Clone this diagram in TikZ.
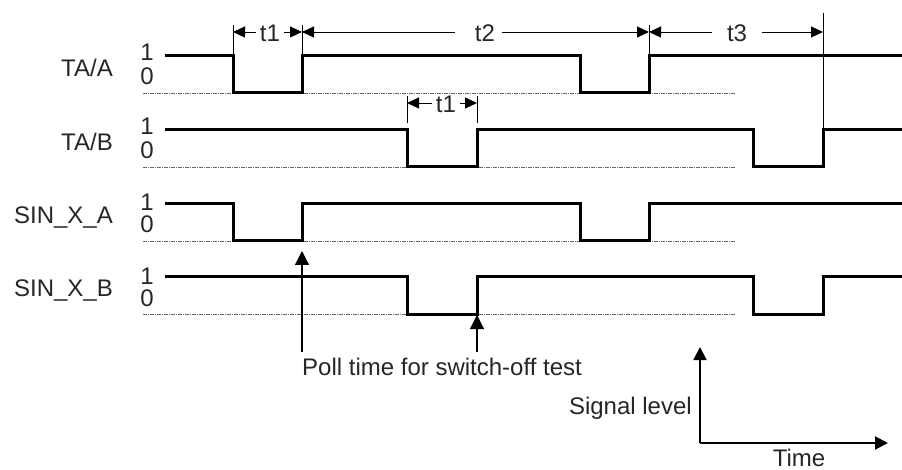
\documentclass[tikz,border=0pt]{standalone}
\usepackage{fontspec}
\setmainfont{Liberation Sans}
\usetikzlibrary{arrows.meta}
\begin{document}
\begin{tikzpicture}[x=1pt,y=-1pt,
  sig/.style={line width=3pt, line join=miter},
  lvl/.style={line width=0.8pt, black!60, dash pattern=on 4pt off 1pt on 1pt off 1pt},
  ext/.style={line width=0.9pt},
  dimarr/.style={line width=0.9pt, -{Triangle[length=12pt,width=11pt]}},
  poll/.style={line width=1.2pt, -{Triangle[length=14pt,width=14pt]}},
  axisarr/.style={line width=2pt, -{Triangle[length=13pt,width=13pt]}},
  lbl/.style={font=\fontsize{24}{28}\selectfont, inner sep=0pt, text=black!85}
]
\useasboundingbox (0,0) rectangle (902,470);

% ---- level reference lines (dotted)
\draw[lvl] (143,93) -- (735,93);
\draw[lvl] (143,167) -- (735,167);
\draw[lvl] (143,241) -- (735,241);
\draw[lvl] (143,314) -- (735,314);

% ---- row labels
\node[lbl, anchor=base east] (nTAA) at (113,77) {TA/A};
\node[lbl, anchor=base east] (nTAB) at (113,151) {TA/B};
\node[lbl, anchor=base east] (nSXA) at (113,224) {SIN\_X\_A};
\node[lbl, anchor=base east] (nSXB) at (113,297) {SIN\_X\_B};

\node[lbl, anchor=base] (oneA) at (147,61) {1};
\node[lbl, anchor=base] (zeroA) at (147,85) {0};
\node[lbl, anchor=base] (oneB) at (147,135) {1};
\node[lbl, anchor=base] (zeroB) at (147,159) {0};
\node[lbl, anchor=base] (oneC) at (147,211) {1};
\node[lbl, anchor=base] (zeroC) at (147,233) {0};
\node[lbl, anchor=base] (oneD) at (147,284) {1};
\node[lbl, anchor=base] (zeroD) at (147,306) {0};

% ---- signals
\draw[sig] (165,56) -- (233,56) -- (233,93) -- (302,93) -- (302,56) -- (580,56) -- (580,93) -- (649,93) -- (649,56) -- (902,56);
\draw[sig] (165,130) -- (407,130) -- (407,167) -- (477,167) -- (477,130) -- (753,130) -- (753,167) -- (823,167) -- (823,130) -- (902,130);
\draw[sig] (165,204) -- (233,204) -- (233,241) -- (302,241) -- (302,204) -- (580,204) -- (580,241) -- (649,241) -- (649,204) -- (902,204);
\draw[sig] (165,277) -- (407,277) -- (407,314) -- (477,314) -- (477,277) -- (753,277) -- (753,314) -- (823,314) -- (823,277) -- (902,277);

% ---- extension lines
\coordinate (xa1) at (233,32);
\coordinate (xa2) at (302,32);
\coordinate (xa3) at (649,32);
\coordinate (xa4) at (823,32);
\coordinate (xb1) at (407,103);
\coordinate (xb2) at (477,103);
\draw[ext] (233,25) -- (233,56);
\draw[ext] (302,25) -- (302,56);
\draw[ext] (649,25) -- (649,56);
\draw[ext] (823,13) -- (823,130);
\draw[ext] (407,96) -- (407,123);
\draw[ext] (477,96) -- (477,123);

% ---- dimension labels and arrows
\node[lbl, inner xsep=4pt, anchor=base] (t1a) at (270,42) {t1};
\node[lbl, inner xsep=4pt, anchor=base] (t1b) at (446,113) {t1};
\node[lbl, inner xsep=7pt, anchor=base] (t2) at (485,42) {t2};
\node[lbl, inner xsep=15pt, anchor=base] (t3) at (737,42) {t3};

\draw[dimarr] (t1a.west |- xa1) -- (xa1);
\draw[dimarr] (t1a.east |- xa2) -- (xa2);
\draw[dimarr] ([xshift=-13pt]t2.west |- xa2) -- (xa2);
\draw[dimarr] (t2.east |- xa3) -- (xa3);
\draw[dimarr] (t3.west |- xa3) -- (xa3);
\draw[dimarr] (t3.east |- xa4) -- (xa4);
\draw[dimarr] (t1b.west |- xb1) -- (xb1);
\draw[dimarr] (t1b.east |- xb2) -- (xb2);

% ---- poll time arrows
\node[lbl, anchor=base west] (poll) at (302,375) {Poll time for switch-off test};
\coordinate (p1) at (302,251);
\coordinate (p2) at (477,315);
\draw[poll] (302,352) -- (p1);
\draw[poll] (477,352) -- (p2);

% ---- axes
\coordinate (org) at (700,443);
\coordinate (yt) at (700,347);
\coordinate (xt) at (888,443);
\draw[axisarr] (org) -- (yt);
\draw[axisarr] (org) -- (xt);
\node[lbl, anchor=base east] (sig) at (692,414) {Signal level};
\node[lbl, anchor=base] (time) at (799,466) {Time};
\end{tikzpicture}
\end{document}
